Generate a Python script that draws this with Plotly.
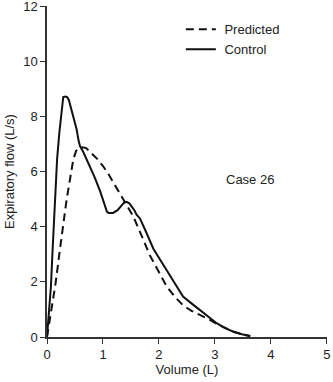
import plotly.graph_objects as go

# Control (solid)
control_x = [0, 0.04, 0.07, 0.1, 0.14, 0.18, 0.22, 0.26, 0.29, 0.33, 0.36, 0.39, 0.41, 0.43, 0.45,
             0.47, 0.5, 0.53, 0.56, 0.59, 0.65, 0.75, 0.85, 0.95, 1.02, 1.07, 1.1, 1.18, 1.26, 1.33,
             1.38, 1.42, 1.47, 1.51, 1.56, 1.6, 1.66, 1.75, 1.84, 1.9, 1.96, 2.05, 2.14, 2.25, 2.35,
             2.43, 2.58, 2.73, 2.88, 3.03, 3.18, 3.33, 3.48, 3.63]
control_y = [0, 1.0, 1.83, 3.16, 4.98, 6.44, 7.4, 8.2, 8.7, 8.72, 8.7, 8.6, 8.45, 8.25, 8.1,
             8.0, 7.77, 7.53, 7.16, 6.92, 6.7, 6.25, 5.8, 5.28, 4.85, 4.55, 4.5, 4.5, 4.6, 4.78,
             4.88, 4.9, 4.85, 4.74, 4.6, 4.44, 4.3, 3.9, 3.5, 3.2, 3.0, 2.7, 2.44, 2.05, 1.7,
             1.47, 1.22, 0.98, 0.73, 0.5, 0.32, 0.19, 0.1, 0.04]

# Predicted (dashed)
pred_x = [0, 0.08, 0.15, 0.23, 0.35, 0.47, 0.52, 0.57, 0.63, 0.7, 0.78, 0.9, 1.0, 1.1, 1.2, 1.36,
          1.54, 1.72, 1.84, 1.96, 2.14, 2.3, 2.43, 2.58, 2.73, 2.91, 3.05, 3.2, 3.35, 3.5, 3.63]
pred_y = [0, 0.98, 1.9, 3.16, 4.98, 6.44, 6.75, 6.85, 6.88, 6.85, 6.7, 6.45, 6.2, 5.9, 5.55, 4.98,
          4.38, 3.53, 2.95, 2.5, 1.83, 1.42, 1.15, 0.95, 0.8, 0.62, 0.45, 0.3, 0.18, 0.09, 0.03]

x_ticks = [0, 1, 2, 3, 4, 5]
y_ticks = [0, 2, 4, 6, 8, 10, 12]

font = "Liberation Sans, Arial, sans-serif"
txt = "#222222"
nb = "\u00a0"

fig = go.Figure()
fig.add_trace(go.Scatter(x=pred_x, y=pred_y, mode="lines", name=nb + "Predicted",
                         line=dict(color="#111111", width=2, dash="8px,5px")))
fig.add_trace(go.Scatter(x=control_x, y=control_y, mode="lines", name=nb + "Control",
                         line=dict(color="#111111", width=2)))

fig.add_annotation(x=3.62, y=5.7, text="Case 26", showarrow=False,
                   font=dict(family=font, size=13, color=txt))

fig.update_layout(
    width=333, height=382,
    margin=dict(l=47, r=6, t=6, b=45),
    paper_bgcolor="white", plot_bgcolor="white",
    font=dict(family=font, size=13, color=txt),
    showlegend=True,
    legend=dict(x=0.478, y=0.975, xanchor="left", yanchor="top",
                bgcolor="rgba(0,0,0,0)", font=dict(family=font, size=13, color=txt),
                tracegroupgap=0, itemwidth=30),
    xaxis=dict(range=[0, 5.001], tickvals=x_ticks, ticktext=[str(v) for v in x_ticks],
               showline=True, linecolor="#333333", linewidth=1.5, ticks="outside", ticklen=5,
               tickcolor="#333333", showgrid=False, zeroline=False, ticklabeloverflow="allow",
               automargin=False, tickfont=dict(size=13, color=txt),
               title=dict(text="Volume (L)", standoff=0, font=dict(size=13, color=txt))),
    yaxis=dict(range=[0, 12.005], tickvals=y_ticks, ticktext=[str(v) for v in y_ticks],
               showline=True, linecolor="#333333", linewidth=1.5, ticks="outside", ticklen=5,
               tickcolor="#333333", showgrid=False, zeroline=False, ticklabeloverflow="allow",
               automargin=False, tickfont=dict(size=13, color=txt),
               title=dict(text="Expiratory flow (L/s)", standoff=6, font=dict(size=13, color=txt))),
)

fig.write_html("out.html")
